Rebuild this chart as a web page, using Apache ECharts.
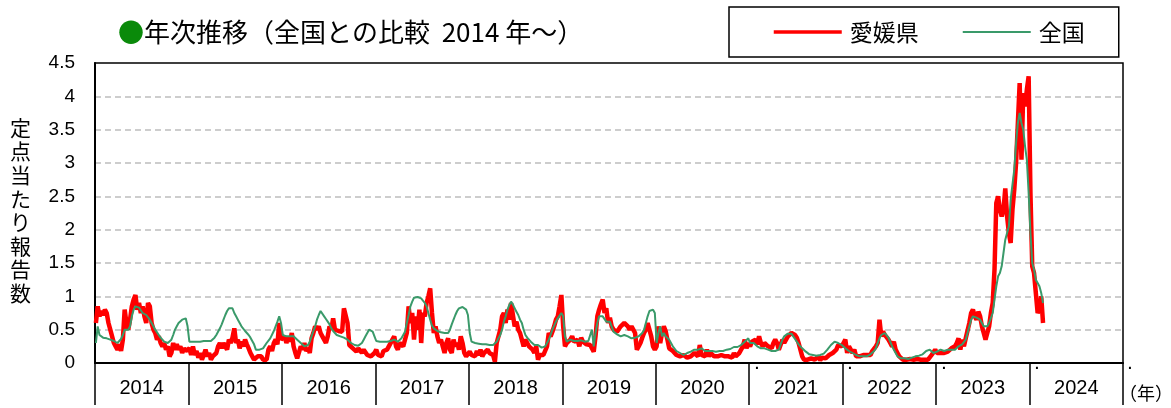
<!DOCTYPE html>
<html>
<head>
<meta charset="utf-8">
<script src="https://cdn.jsdelivr.net/npm/echarts@6/dist/echarts.min.js"></script>
<style>
  html, body { margin: 0; padding: 0; background: #fff; }
  #chart { width: 1171px; height: 408px; }
</style>
</head>
<body>
<div id="chart"></div>
<script>
const years = ['2014', '2015', '2016', '2017', '2018', '2019', '2020', '2021', '2022', '2023', '2024'];
const weeksPerYear = 52;

// 愛媛県 weekly values
const ehime2014 = [0.6,0.85,0.7,0.78,0.72, 0.8,0.75,0.6,0.5,0.4, 0.3,0.25,0.2,0.28,0.18, 0.35,0.8,0.6,0.5,0.65, 0.85,0.95,1.02,0.8,0.9, 0.75,0.85,0.7,0.6,0.9, 0.85,0.6,0.5,0.45,0.35, 0.4,0.3,0.25,0.3,0.2, 0.25,0.1,0.15,0.3,0.2, 0.28,0.2,0.25,0.15,0.22,0.18,0.2];
const ehime2015 = [0.22,0.12,0.25,0.12,0.18, 0.08,0.15,0.05,0.12,0.2, 0.1,0.15,0.05,0.1,0.08, 0.15,0.25,0.3,0.22,0.3, 0.25,0.2,0.35,0.3,0.38, 0.52,0.3,0.35,0.22,0.32, 0.25,0.35,0.28,0.22,0.15, 0.1,0.05,0.08,0.1,0.08, 0.1,0.05,0.08,0.05,0.2, 0.25,0.18,0.3,0.35,0.28,0.6,0.35];
const ehime2016 = [0.35,0.4,0.3,0.38,0.32, 0.45,0.25,0.15,0.07,0.1, 0.25,0.2,0.3,0.18,0.22, 0.15,0.37,0.45,0.55,0.5, 0.55,0.45,0.4,0.35,0.3, 0.4,0.55,0.5,0.67,0.5, 0.52,0.48,0.5,0.47,0.82, 0.8,0.6,0.27,0.25,0.22, 0.2,0.17,0.22,0.2,0.15, 0.2,0.18,0.12,0.15,0.1,0.12,0.15];
const ehime2017 = [0.2,0.12,0.15,0.1,0.18, 0.15,0.2,0.25,0.22,0.35, 0.4,0.25,0.2,0.3,0.28, 0.25,0.35,0.45,0.85,0.6, 0.75,0.35,0.7,0.5,0.8, 0.3,0.75,0.7,0.9,1.0, 1.12,0.75,0.45,0.55,0.4, 0.3,0.35,0.25,0.15,0.3, 0.37,0.2,0.15,0.35,0.25, 0.3,0.2,0.4,0.3,0.15,0.1,0.12];
const ehime2018 = [0.17,0.12,0.15,0.1,0.18, 0.12,0.2,0.1,0.15,0.12, 0.2,0.15,0.18,0.12,0.02, 0.3,0.28,0.5,0.7,0.75, 0.6,0.8,0.65,0.9,0.88, 0.55,0.62,0.5,0.45,0.35, 0.25,0.35,0.3,0.25,0.22, 0.2,0.15,0.25,0.05,0.12, 0.1,0.12,0.1,0.25,0.45, 0.4,0.47,0.55,0.65,0.7,0.85,1.02];
const ehime2019 = [0.55,0.25,0.3,0.28,0.35, 0.4,0.32,0.3,0.35,0.25, 0.38,0.32,0.3,0.28,0.3, 0.27,0.25,0.17,0.4,0.7, 0.8,0.88,0.95,0.75,0.82, 0.6,0.68,0.55,0.5,0.48, 0.47,0.5,0.55,0.57,0.6, 0.62,0.55,0.5,0.55,0.5, 0.45,0.2,0.25,0.3,0.38, 0.45,0.5,0.6,0.62,0.4,0.25,0.2];
const ehime2020 = [0.25,0.55,0.3,0.45,0.55, 0.48,0.35,0.22,0.2,0.18, 0.15,0.12,0.15,0.1,0.08, 0.12,0.1,0.08,0.07,0.1, 0.12,0.15,0.17,0.1,0.27, 0.12,0.15,0.1,0.2,0.1, 0.15,0.12,0.1,0.08,0.1, 0.08,0.12,0.1,0.1,0.07, 0.1,0.12,0.08,0.15,0.1, 0.07,0.15,0.2,0.25,0.35,0.22,0.3];
const ehime2021 = [0.25,0.32,0.3,0.35,0.28, 0.4,0.3,0.25,0.3,0.32, 0.25,0.28,0.22,0.3,0.35, 0.3,0.2,0.22,0.35,0.3, 0.35,0.4,0.42,0.45,0.47, 0.42,0.38,0.3,0.2,0.1, 0.05,0.02,0.05,0.08,0.07, 0.1,0.05,0.08,0.1,0.04, 0.08,0.1,0.07,0.1,0.12, 0.1,0.15,0.15,0.2,0.27,0.3,0.25];
const ehime2022 = [0.3,0.35,0.15,0.25,0.2, 0.15,0.2,0.1,0.07,0.1, 0.08,0.12,0.1,0.12,0.15, 0.12,0.18,0.2,0.25,0.3, 0.65,0.4,0.47,0.42,0.45, 0.35,0.3,0.25,0.32,0.2, 0.15,0.1,0.08,0.05,0.07, 0.05,0.04,0.06,0.03,0.05, 0.04,0.06,0.03,0.05,0.04, 0.05,0.07,0.05,0.08,0.12,0.15,0.2];
const ehime2023 = [0.15,0.18,0.15,0.12,0.15, 0.18,0.17,0.2,0.22,0.2, 0.25,0.3,0.37,0.2,0.35, 0.25,0.37,0.4,0.6,0.75, 0.8,0.7,0.65,0.77,0.7, 0.55,0.45,0.35,0.45,0.55, 0.75,0.9,1.4,2.4,2.5, 2.3,2.2,2.3,2.62,2.2, 1.95,1.8,2.3,2.6,3.0, 3.6,4.2,3.05,4.05,3.85,4.1,4.3];
const ehime2024 = [2.55,1.45,1.35,1.05,0.75,0.8,1.0,0.6];

// 全国 weekly values
const zenkoku2014 = [0.3,0.55,0.42,0.4,0.38, 0.38,0.37,0.36,0.35,0.35, 0.33,0.32,0.3,0.32,0.36, 0.42,0.5,0.48,0.5,0.55, 0.7,0.8,0.85,0.85,0.83, 0.8,0.75,0.72,0.72,0.7, 0.65,0.6,0.55,0.5,0.47, 0.42,0.38,0.35,0.32,0.3, 0.3,0.32,0.35,0.42,0.5, 0.55,0.6,0.63,0.65,0.67,0.67,0.55];
const zenkoku2015 = [0.32,0.3,0.32,0.3,0.32, 0.3,0.32,0.32,0.33,0.32, 0.33,0.32,0.33,0.35,0.38, 0.42,0.45,0.52,0.58,0.65, 0.72,0.78,0.82,0.83,0.82, 0.75,0.7,0.65,0.6,0.55, 0.52,0.48,0.45,0.42,0.38, 0.35,0.28,0.2,0.2,0.2, 0.2,0.22,0.25,0.3,0.33, 0.37,0.4,0.48,0.55,0.62,0.7,0.6];
const zenkoku2016 = [0.42,0.4,0.4,0.4,0.4, 0.4,0.4,0.38,0.35,0.32, 0.3,0.28,0.25,0.26,0.27, 0.32,0.4,0.48,0.55,0.65, 0.72,0.78,0.8,0.7,0.66, 0.62,0.58,0.52,0.48,0.45, 0.42,0.42,0.4,0.4,0.38, 0.37,0.35,0.33,0.3,0.28, 0.27,0.25,0.26,0.28,0.3, 0.35,0.4,0.45,0.5,0.52,0.47,0.4];
const zenkoku2017 = [0.33,0.32,0.32,0.33,0.32, 0.33,0.32,0.32,0.33,0.35, 0.35,0.33,0.32,0.34,0.37, 0.42,0.47,0.6,0.72,0.85, 0.92,0.98,1.0,0.99,0.98, 0.97,0.95,0.9,0.85,0.75, 0.65,0.56,0.52,0.5,0.48, 0.45,0.46,0.47,0.45,0.42, 0.45,0.5,0.58,0.65,0.72, 0.78,0.82,0.85,0.84,0.82,0.8,0.72];
const zenkoku2018 = [0.45,0.32,0.3,0.3,0.3, 0.29,0.3,0.28,0.29,0.28, 0.28,0.27,0.28,0.27,0.27, 0.32,0.37,0.42,0.5,0.62, 0.7,0.8,0.87,0.92,0.88, 0.82,0.77,0.72,0.65,0.6, 0.5,0.42,0.38,0.35,0.32, 0.3,0.27,0.27,0.27,0.25, 0.23,0.22,0.25,0.27,0.35, 0.42,0.5,0.56,0.62,0.67,0.7,0.75];
const zenkoku2019 = [0.7,0.4,0.32,0.33,0.35, 0.35,0.33,0.32,0.33,0.32, 0.34,0.33,0.32,0.33,0.33, 0.35,0.5,0.25,0.45,0.6, 0.7,0.7,0.7,0.68,0.62, 0.65,0.62,0.6,0.47,0.45, 0.43,0.42,0.4,0.4,0.42, 0.4,0.4,0.38,0.37,0.37, 0.38,0.38,0.4,0.42,0.45, 0.5,0.6,0.7,0.78,0.8,0.8,0.75];
const zenkoku2020 = [0.3,0.45,0.55,0.4,0.45, 0.4,0.38,0.35,0.3,0.25, 0.22,0.18,0.17,0.15,0.13, 0.12,0.14,0.15,0.15,0.17, 0.18,0.2,0.2,0.2,0.21, 0.22,0.2,0.18,0.18,0.18, 0.2,0.18,0.16,0.17,0.18, 0.18,0.17,0.18,0.18,0.2, 0.2,0.21,0.22,0.24,0.26, 0.24,0.26,0.27,0.3,0.32,0.35,0.37];
const zenkoku2021 = [0.3,0.28,0.3,0.27,0.25, 0.25,0.22,0.22,0.22,0.2, 0.2,0.19,0.18,0.17,0.18, 0.18,0.2,0.22,0.35,0.4, 0.42,0.44,0.46,0.44,0.4, 0.36,0.32,0.28,0.25,0.22, 0.2,0.17,0.15,0.13,0.12, 0.12,0.11,0.11,0.12,0.12, 0.13,0.14,0.16,0.2,0.23, 0.27,0.3,0.32,0.32,0.3,0.28,0.27];
const zenkoku2022 = [0.25,0.22,0.2,0.18,0.17, 0.15,0.13,0.12,0.11,0.1, 0.1,0.1,0.1,0.1,0.11, 0.13,0.15,0.18,0.22,0.3, 0.37,0.42,0.44,0.45,0.43, 0.38,0.32,0.25,0.2,0.15, 0.1,0.08,0.07,0.07,0.07, 0.06,0.06,0.07,0.08,0.09, 0.1,0.1,0.11,0.12,0.13, 0.15,0.18,0.2,0.2,0.18,0.15,0.15];
const zenkoku2023 = [0.17,0.18,0.2,0.22,0.18, 0.17,0.2,0.2,0.2,0.22, 0.2,0.22,0.25,0.25,0.28, 0.3,0.35,0.45,0.55,0.65, 0.7,0.7,0.68,0.7,0.65, 0.6,0.55,0.52,0.55,0.6, 0.6,0.75,0.95,1.15,1.3, 1.35,1.45,1.65,1.85,1.82, 2.05,2.45,2.47,2.9,3.3, 3.6,3.75,3.6,3.5,3.25,3.05,2.55];
const zenkoku2024 = [1.95,1.5,1.4,1.25,1.2,1.15,1.05,0.9];

const ehime = [].concat(ehime2014, ehime2015, ehime2016, ehime2017, ehime2018, ehime2019,
  ehime2020, ehime2021, ehime2022, ehime2023, ehime2024);
const zenkoku = [].concat(zenkoku2014, zenkoku2015, zenkoku2016, zenkoku2017, zenkoku2018, zenkoku2019,
  zenkoku2020, zenkoku2021, zenkoku2022, zenkoku2023, zenkoku2024);

// one category per week
const weekLabels = [];
years.forEach(y => {
  for (let w = 1; w <= weeksPerYear; w++) weekLabels.push(y + '-' + w);
});

const jpFont = '"Noto Sans CJK JP", sans-serif';
const numFont = '"Liberation Sans", Arial, sans-serif';

const chart = echarts.init(document.getElementById('chart'), null, { renderer: 'canvas' });

chart.setOption({
  animation: false,
  title: {
    left: 113,
    top: 14,
    text: '{dot|●}年次推移（全国との比較  2014 年～）',
    textStyle: {
      fontFamily: jpFont,
      fontSize: 26,
      fontWeight: 'normal',
      color: '#000',
      rich: {
        dot: { color: '#0a8a0a', fontSize: 26, fontFamily: jpFont }
      }
    }
  },
  legend: {
    left: 729,
    top: 7,
    orient: 'horizontal',
    padding: [13, 34, 13, 43],
    itemGap: 43,
    itemWidth: 68,
    itemHeight: 2,   // keeps the line icon's marker hidden inside the line
    borderColor: '#000',
    borderWidth: 1.5,
    textStyle: {
      fontFamily: jpFont,
      fontSize: 23,
      color: '#000',
      lineHeight: 24,
      padding: [0, 0, 0, 3]
    },
    data: [
      { name: '愛媛県', lineStyle: { width: 3.5 } },
      { name: '全国', lineStyle: { width: 2 } }
    ]
  },
  grid: {
    left: 95,
    right: 48,
    top: 63,
    bottom: 45,
    show: true,
    borderColor: '#000',
    borderWidth: 1.5,
    backgroundColor: 'transparent'
  },
  xAxis: [
    {
      type: 'category',
      data: weekLabels,
      boundaryGap: true,
      axisLine: { lineStyle: { color: '#000', width: 2 } },
      axisTick: { show: false },
      axisLabel: { show: false },
      splitLine: { show: false }
    },
    {
      type: 'category',
      data: years,
      position: 'bottom',
      boundaryGap: true,
      axisLine: { show: false },
      axisTick: { show: true, interval: 0, length: 42, lineStyle: { color: '#000', width: 1.5 } },
      axisLabel: { interval: 0, margin: 15, fontSize: 20, color: '#000', fontFamily: numFont },
      splitLine: { show: false }
    }
  ],
  yAxis: {
    type: 'value',
    min: 0,
    max: 4.5,
    interval: 0.5,
    axisLine: { show: true, lineStyle: { color: '#000', width: 2 } },
    axisTick: { show: false },
    axisLabel: { fontSize: 19, color: '#000', margin: 20, fontFamily: numFont },
    splitLine: {
      showMinLine: false,
      showMaxLine: false,
      lineStyle: { type: [6, 4], color: '#bdbdbd', width: 1.5 }
    }
  },
  series: [
    {
      name: '愛媛県',
      type: 'line',
      data: ehime,
      symbol: 'none',
      lineStyle: { color: '#ff0000', width: 4.5 },
      itemStyle: { color: '#ff0000' }
    },
    {
      name: '全国',
      type: 'line',
      data: zenkoku,
      symbol: 'none',
      lineStyle: { color: '#3a9a6a', width: 2 },
      itemStyle: { color: '#3a9a6a' }
    }
  ],
  graphic: [
    {
      type: 'text',
      left: 10,
      top: 116,
      style: {
        text: '定点当たり報告数'.split('').join('\n'),
        font: '21px ' + jpFont,
        fill: '#000',
        lineHeight: 23.6,
        align: 'center'
      }
    },
    {
      type: 'text',
      left: 1119,
      top: 384,
      style: { text: '（年）', font: '18px ' + jpFont, fill: '#000' }
    },
    // stray dots under the axis, as in the original sheet
    { type: 'text', left: 755, top: 358, style: { text: '.', font: 'bold 14px ' + numFont, fill: '#000' } },
    { type: 'text', left: 848, top: 358, style: { text: '.', font: 'bold 14px ' + numFont, fill: '#000' } },
    { type: 'text', left: 942, top: 358, style: { text: '.', font: 'bold 14px ' + numFont, fill: '#000' } },
    { type: 'text', left: 1035, top: 358, style: { text: '.', font: 'bold 14px ' + numFont, fill: '#000' } },
    { type: 'text', left: 1128, top: 358, style: { text: '.', font: 'bold 14px ' + numFont, fill: '#000' } }
  ]
});
</script>
</body>
</html>
